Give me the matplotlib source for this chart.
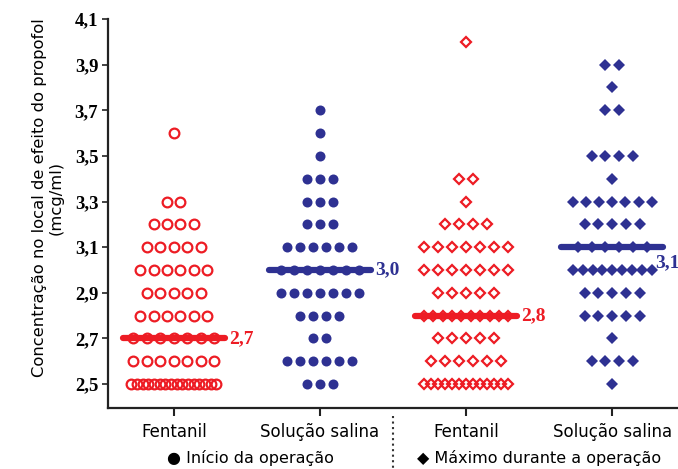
import numpy as np
import matplotlib.pyplot as plt
import matplotlib.transforms as mtransforms

# concentrations (mcg/ml) and number of patients at each level
fent_ini_conc = [3.6, 3.3, 3.2, 3.1, 3.0, 2.9, 2.8, 2.7, 2.6, 2.5]
fent_ini_n = [1, 2, 4, 5, 6, 5, 6, 7, 7, 16]

sal_ini_conc = [3.7, 3.6, 3.5, 3.4, 3.3, 3.2, 3.1, 3.0, 2.9, 2.8, 2.7, 2.6, 2.5]
sal_ini_n = [1, 1, 1, 3, 3, 3, 6, 7, 7, 4, 2, 6, 3]

fent_max_conc = [4.0, 3.4, 3.3, 3.2, 3.1, 3.0, 2.9, 2.8, 2.7, 2.6, 2.5]
fent_max_n = [1, 2, 1, 4, 7, 7, 5, 10, 5, 6, 13]

sal_max_conc = [3.9, 3.8, 3.7, 3.5, 3.4, 3.3, 3.2, 3.1, 3.0, 2.9, 2.8, 2.7, 2.6, 2.5]
sal_max_n = [2, 1, 2, 4, 1, 7, 5, 6, 9, 5, 5, 1, 4, 1]

medians = [2.7, 3.0, 2.8, 3.1]
median_labels = ["2,7", "3,0", "2,8", "3,1"]
groups = ["Fentanil", "Solução salina", "Fentanil", "Solução salina"]
yticks = [2.5, 2.7, 2.9, 3.1, 3.3, 3.5, 3.7, 3.9, 4.1]

RED = "#ed1c24"
BLUE = "#2e3192"


def row_offsets(n, step, half_max):
    if n > 1 and step * (n - 1) > 2 * half_max:
        step = 2 * half_max / (n - 1)
    return (np.arange(n) - (n - 1) / 2) * step


def swarm(xc, conc, counts, step, half_max=0.29):
    xs, ys = [], []
    for v, n in zip(conc, counts):
        xs.extend(xc + row_offsets(n, step, half_max))
        ys.extend([v] * n)
    return xs, ys


fig = plt.figure(figsize=(6.78, 4.69), dpi=100)
ax = fig.add_axes([108 / 678, 1 - 408 / 469, 1 - 108 / 678, (408 - 19) / 469])

x, y = swarm(0, fent_ini_conc, fent_ini_n, 0.092)
ax.plot(x, y, ls="none", marker="o", ms=7, mfc="none", mec=RED, mew=1.6)
x, y = swarm(1, sal_ini_conc, sal_ini_n, 0.089)
ax.plot(x, y, ls="none", marker="o", ms=7.2, mfc=BLUE, mec=BLUE, mew=0)
x, y = swarm(2, fent_max_conc, fent_max_n, 0.096)
ax.plot(x, y, ls="none", marker="D", ms=5.6, mfc="none", mec=RED, mew=1.6)
x, y = swarm(3, sal_max_conc, sal_max_n, 0.094, half_max=0.27)
ax.plot(x, y, ls="none", marker="D", ms=6, mfc=BLUE, mec=BLUE, mew=0)

# median bars with their values
colors = [RED, BLUE, RED, BLUE]
for i, (m, lab, c) in enumerate(zip(medians, median_labels, colors)):
    ax.plot([i - 0.35, i + 0.35], [m, m], color=c, lw=4.5,
            solid_capstyle="round", zorder=4)
    off = (3, 0) if i < 3 else (-6, -11.5)
    ax.annotate(lab, (i + 0.35, m), xytext=off, textcoords="offset points",
                va="center", ha="left", color=c, fontsize=14,
                fontweight="bold", family="Liberation Serif",
                annotation_clip=False)

ax.set_xlim(-0.45, 3.45)
ax.set_ylim(2.395, 4.1)
ax.set_yticks(yticks)
ax.set_yticklabels([f"{t:.1f}".replace(".", ",") for t in yticks],
                   fontsize=13.5, fontweight="bold", family="Liberation Serif")
ax.set_xticks(range(4))
ax.set_xticklabels(groups, fontsize=12, family="DejaVu Sans")
ax.tick_params(axis="x", length=6, width=1.5, pad=5, color="#222222")
ax.tick_params(axis="y", length=4, width=1.2, pad=3, color="#222222")
for s in ["top", "right"]:
    ax.spines[s].set_visible(False)
for s in ["left", "bottom"]:
    ax.spines[s].set_linewidth(1.6)
    ax.spines[s].set_color("#222222")

ax.set_ylabel("Concentração no local de efeito do propofol\n(mcg/ml)",
              fontsize=11.8, family="DejaVu Sans", linespacing=1.15)
ax.yaxis.set_label_coords(-0.078, 0.54)

# dotted divider between the two time points
trans = mtransforms.blended_transform_factory(ax.transData, ax.transAxes)
ax.plot([1.5, 1.5], [-0.02, -0.16], transform=trans, ls=":", lw=1.5,
        color="#333333", clip_on=False)

fig.text(250 / 678, 1 - 458 / 469, "● Início da operação", ha="center",
         va="center", fontsize=11.5)
fig.text(539 / 678, 1 - 458 / 469, "◆ Máximo durante a operação", ha="center",
         va="center", fontsize=11.5)

fig.savefig("out.png", dpi=100)
